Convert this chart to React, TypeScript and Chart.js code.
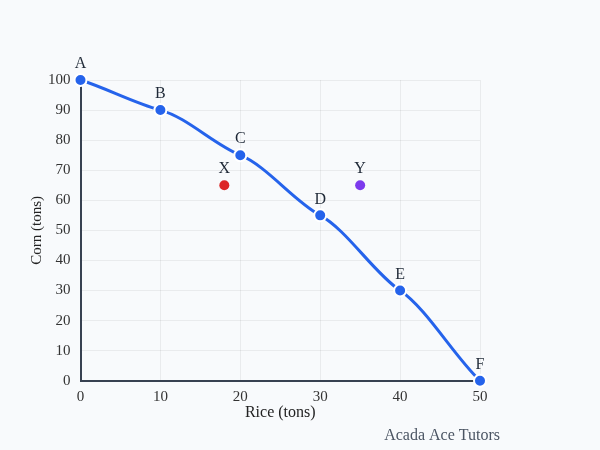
import React, { useEffect, useRef } from "react";
import { Chart, registerables } from "chart.js";

Chart.register(...registerables);

const ppfLabels = ["A", "B", "C", "D", "E", "F"];
const riceValues = [0, 10, 20, 30, 40, 50];
const cornValues = [100, 90, 75, 55, 30, 0];

const extraLabels = ["X", "Y"];
const extraRice = [18, 35];
const extraCorn = [65, 65];
const extraColors = ["#dc2626", "#7c3aed"];

const xTitle = "Rice (tons)";
const yTitle = "Corn (tons)";
const footerText = "Acada Ace Tutors";

const FONT = "'Liberation Serif', 'Times New Roman', serif";

// reshapes the curve's bezier handles (style only)
const curveShapePlugin = {
  id: "curveShape",
  beforeDatasetDraw(chart: any, args: any) {
    if (args.index !== 0) return;
    const meta = chart.getDatasetMeta(0);
    const line = meta.dataset;
    if (!line) return;
    line.updateControlPoints(chart.chartArea, "x");
    const pts = meta.data;
    const n = pts.length;
    const sec: number[] = [];
    for (let i = 0; i < n - 1; i++) sec.push((pts[i + 1].y - pts[i].y) / (pts[i + 1].x - pts[i].x));
    for (let i = 0; i < n; i++) {
      let m: number;
      if (i === 0) m = sec[0] * 0.85;
      else if (i === n - 1) m = sec[n - 2] * 0.85;
      else m = Math.min(sec[i - 1], sec[i]) * 0.72;
      const p = pts[i];
      const dxPrev = i > 0 ? (p.x - pts[i - 1].x) / 3 : 0;
      const dxNext = i < n - 1 ? (pts[i + 1].x - p.x) / 3 : 0;
      p.cp1x = p.x - dxPrev;
      p.cp1y = p.y - m * dxPrev;
      p.cp2x = p.x + dxNext;
      p.cp2y = p.y + m * dxNext;
    }
    line._path = undefined;
  },
};

const pointLabelPlugin = {
  id: "pointLabels",
  afterDatasetsDraw(chart: any) {
    const ctx = chart.ctx;
    ctx.save();
    ctx.font = `16px ${FONT}`;
    ctx.fillStyle = "#1f2937";
    ctx.textAlign = "center";
    ctx.textBaseline = "bottom";
    chart.data.datasets.forEach((ds: any, di: number) => {
      const meta = chart.getDatasetMeta(di);
      meta.data.forEach((el: any, i: number) => {
        const lbl = ds.pointNames ? ds.pointNames[i] : null;
        if (lbl) ctx.fillText(lbl, el.x, el.y - 8);
      });
    });
    ctx.font = `16px ${FONT}`;
    ctx.fillStyle = "#4b5563";
    ctx.textAlign = "right";
    ctx.textBaseline = "middle";
    ctx.fillText(footerText, chart.chartArea.right + 20, chart.height - 14);
    ctx.restore();
  },
};

export default function App() {
  const ref = useRef<HTMLCanvasElement>(null);
  useEffect(() => {
    if (!ref.current) return;
    const chart = new Chart(ref.current, {
      type: "scatter",
      data: {
        datasets: [
          {
            data: riceValues.map((x, i) => ({ x, y: cornValues[i] })),
            pointNames: ppfLabels,
            showLine: true,
            clip: false,
            borderColor: "#2563eb",
            borderWidth: 3,
            tension: 0.4,
            pointRadius: 6,
            pointBackgroundColor: "#2563eb",
            pointBorderColor: "#ffffff",
            pointBorderWidth: 2,
          } as any,
          ...extraLabels.map(
            (l, i) =>
              ({
                data: [{ x: extraRice[i], y: extraCorn[i] }],
                pointNames: [l],
                clip: false,
                pointRadius: 5,
                pointBackgroundColor: extraColors[i],
                pointBorderColor: extraColors[i],
                pointBorderWidth: 0,
              } as any)
          ),
        ],
      },
      options: {
        animation: false,
        responsive: true,
        maintainAspectRatio: false,
        layout: { padding: { left: 28, right: 120, top: 80, bottom: 28 } },
        plugins: { legend: { display: false }, tooltip: { enabled: false } },
        scales: {
          x: {
            type: "linear",
            min: 0,
            max: 50,
            ticks: { stepSize: 10, color: "#333", font: { family: FONT, size: 15 }, padding: 7 },
            grid: { color: "rgba(0,0,0,0.06)", drawTicks: false },
            border: { color: "#374151", width: 2 },
            title: { display: true, text: xTitle, color: "#222", font: { family: FONT, size: 16 }, padding: { top: -10, bottom: 0 } },
          },
          y: {
            min: 0,
            max: 100,
            ticks: { stepSize: 10, color: "#333", font: { family: FONT, size: 15 }, padding: 10 },
            grid: { color: "rgba(0,0,0,0.06)", drawTicks: false },
            border: { color: "#374151", width: 2 },
            title: { display: true, text: yTitle, color: "#222", font: { family: FONT, size: 15 }, padding: { top: 0, bottom: -8 } },
          },
        },
      },
      plugins: [curveShapePlugin, pointLabelPlugin],
    });
    return () => chart.destroy();
  }, []);
  return (
    <div style={{ position: "fixed", left: 0, top: 0, width: 600, height: 450, background: "#f8fafc" }}>
      <canvas ref={ref} />
    </div>
  );
}
